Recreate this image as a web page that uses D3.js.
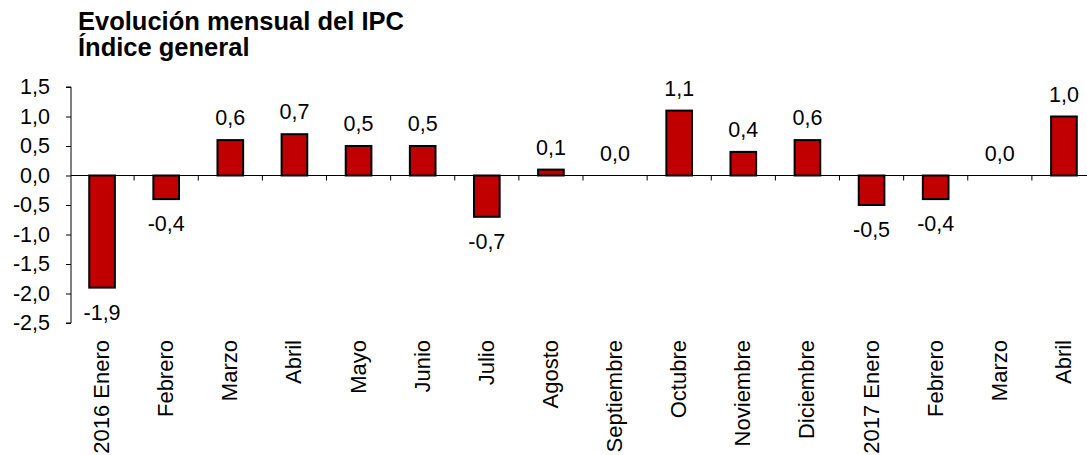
<!DOCTYPE html>
<html>
<head>
<meta charset="utf-8">
<script src="https://cdn.jsdelivr.net/npm/d3@7"></script>
<style>
  body { margin: 0; background: #fff; }
  svg { font-family: "Liberation Sans", Arial, sans-serif; }
</style>
</head>
<body>
<div id="chart"></div>
<script>
// IPC mensual — barras verticales
const months = ["2016 Enero","Febrero","Marzo","Abril","Mayo","Junio","Julio","Agosto",
  "Septiembre","Octubre","Noviembre","Diciembre","2017 Enero","Febrero","Marzo","Abril"];
const values = [-1.9, -0.4, 0.6, 0.7, 0.5, 0.5, -0.7, 0.1, 0.0, 1.1, 0.4, 0.6, -0.5, -0.4, 0.0, 1.0];
const yTicks = [1.5, 1.0, 0.5, 0.0, -0.5, -1.0, -1.5, -2.0, -2.5];
const titleLines = ["Evolución mensual del IPC", "Índice general"];

const W = 1087, H = 455;
const fmt = v => d3.format(".1f")(v).replace(".", ",").replace("−", "-");

const svg = d3.select("#chart").append("svg").attr("width", W).attr("height", H);

const x = d3.scaleBand().domain(d3.range(months.length)).range([70, 1096]).paddingInner(0.6).paddingOuter(0.3);
const y = d3.scaleLinear().domain([-2.5, 1.5]).range([323, 87]);

// Title
svg.append("g").selectAll("text").data(titleLines).enter().append("text")
  .attr("x", 78).attr("y", (d, i) => 30 + i * 26)
  .attr("font-size", "25.5px").attr("font-weight", "bold").attr("fill", "#000")
  .text(d => d);

// Y axis
const yAxis = d3.axisLeft(y).tickValues(yTicks).tickSize(5).tickPadding(16).tickFormat(fmt);
const gy = svg.append("g").attr("transform", "translate(71,0)").call(yAxis);
gy.select(".domain").attr("stroke", "#000").attr("d", "M-5," + y(1.5) + "H0V" + y(-2.5) + "H-5");
gy.selectAll("text").attr("font-size", "21.5px").attr("fill", "#000").attr("font-family", "Liberation Sans, Arial, sans-serif");

// Bars
svg.append("g").selectAll("rect").data(values).enter().append("rect")
  .attr("x", (d, i) => x(i))
  .attr("y", d => y(Math.max(0, d)))
  .attr("width", x.bandwidth())
  .attr("height", d => Math.abs(y(d) - y(0)))
  .attr("fill", "#c00000").attr("stroke", "#000").attr("stroke-width", 2);

// Zero line with downward ticks
const step = x.step();
svg.append("line").attr("x1", 71).attr("x2", W).attr("y1", y(0)).attr("y2", y(0)).attr("stroke", "#000");
svg.append("g").selectAll("line").data(d3.range(1, months.length)).enter().append("line")
  .attr("x1", i => 70 + i * step).attr("x2", i => 70 + i * step)
  .attr("y1", y(0)).attr("y2", y(0) + 5).attr("stroke", "#000");

// Value labels
svg.append("g").selectAll("text").data(values).enter().append("text")
  .attr("x", (d, i) => x(i) + x.bandwidth() / 2)
  .attr("y", d => d < 0 ? y(d) + 32 : y(d) - 15)
  .attr("text-anchor", "middle").attr("font-size", "21.5px").attr("fill", "#000")
  .text(fmt);

// Category labels (rotated)
svg.append("g").selectAll("text").data(months).enter().append("text")
  .attr("transform", (d, i) => "translate(" + (x(i) + x.bandwidth() / 2 + 7) + ",340) rotate(-90)")
  .attr("text-anchor", "end").attr("font-size", "22px").attr("fill", "#000")
  .text(d => d);
</script>
</body>
</html>
